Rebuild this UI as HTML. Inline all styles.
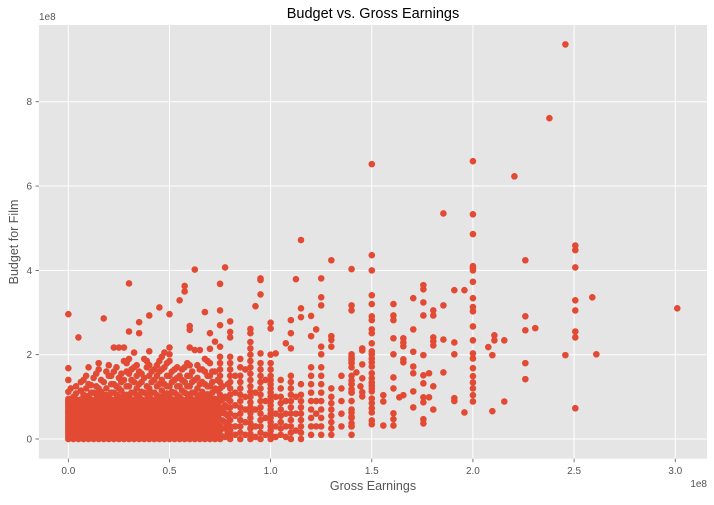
<!DOCTYPE html>
<html><head><meta charset="utf-8"><style>
html,body{margin:0;padding:0;background:#fff;}
svg text{font-family:"Liberation Sans",sans-serif;}
</style></head><body>
<svg id="chart" width="714" height="500" viewBox="0 0 714 500" xmlns="http://www.w3.org/2000/svg">
<rect x="39" y="25" width="668" height="433.7" fill="#E5E5E5"/>
<g id="grid"></g><g id="ticks"></g><g id="points"></g>
<text x="373" y="18" text-anchor="middle" font-size="14.5" fill="#000">Budget vs. Gross Earnings</text>
<text x="373" y="490" text-anchor="middle" font-size="12.5" fill="#555">Gross Earnings</text>
<text transform="translate(18,242) rotate(-90)" text-anchor="middle" font-size="12.5" fill="#555">Budget for Film</text>
<text x="39" y="20" font-size="10" fill="#555">1e8</text>
<text x="707" y="487" text-anchor="end" font-size="10" fill="#555">1e8</text>
</svg>
<script>
const xTicks = [0,50,100,150,200,250,300];
const xTickLabels = ["0.0","0.5","1.0","1.5","2.0","2.5","3.0"];
const yTicks = [0,200,400,600,800];
const yTickLabels = ["0","2","4","6","8"];
const colX = [0,2.5,5,7.5,10,12.5,15,17.5,20,22.5,25,27.5,30,32.5,35,37.5,40,42.5,45,47.5,50,52.5,55,57.5,60,62.5,65,67.5,70,72.5,75,77.5,80,82.5,85,87.5,90,92.5,95,97.5,100,102.5,105,107.5,110,112.5,115,120,122.5,125,130,135,140,142.4,144.4,145.3,150,155.7,160.7,163.6,165.6,170.5,175.5,178.3,180.4,185.4,190.8,195.8,200,207.6,209.6,210.6,215.5,220.5,225.9,230.8,237.8,245.7,250.6,259,261,301,
1.2,3.8,6.2,8.8,11.2,13.8,16.2,18.8,21.2,23.8,26.2,28.8,31.2,33.8,36.2,38.8,41.2,43.8,46.2,48.8,51.2,53.8,56.2,58.8,61.2,63.8,66.2,68.8,71.2,73.8,76.2,78.8];
const colY = [
[0,5,10,15,20,25,30,35,40,45,50,55,60,65,70,75,80,85,90,95,112,140,168,296],
[0,12,25,37,50,62,75,87,100],
[0,12,25,37,50,62,75,87,241],
[0,12,25,37,50,62,75,87,105,140],
[0,12,25,37,50,62,75,87,100,130,170],
[0,12,25,37,50,62,75,87,110,145],
[0,12,25,37,50,62,75,87,100,120,165,180],
[0,12,25,37,50,62,75,87,105,135,286],
[0,12,25,37,50,62,75,87,100,150,175],
[0,12,25,37,50,62,75,87,110,130,160,217],
[0,12,25,37,50,62,75,87,100,120,145,217],
[0,12,25,37,50,62,75,87,105,140,185,217],
[0,12,25,37,50,62,75,87,100,125,155,190,255,369],
[0,12,25,37,50,62,75,87,110,135,170,205],
[0,12,25,37,50,62,75,87,100,130,160,251,277],
[0,12,25,37,50,62,75,87,110,145,190],
[0,12,25,37,50,62,75,87,100,120,150,175,208,293],
[0,12,25,37,50,62,75,87,110,140,165],
[0,12,25,37,50,62,75,87,100,130,160,185,312],
[0,12,25,37,50,62,75,87,105,130,170,205],
[0,12,25,37,50,62,75,87,100,125,150,185,201,217,296],
[0,12,25,37,50,62,75,87,110,140,165],
[0,12,25,37,50,62,75,87,100,125,150,329],
[0,12,25,37,50,62,75,87,110,135,170,350,363],
[0,12,25,37,50,62,75,87,100,125,150,175,217,259,268],
[0,12,25,37,50,62,75,87,110,140,211,402],
[0,12,25,37,50,62,75,87,100,130,165,211],
[0,12,25,37,50,62,75,87,105,130,160,190,301],
[0,12,25,37,50,62,75,87,100,125,150,180,214,251],
[0,8,20,35,50,65,80,95,120,160,231],
[0,8,20,30,45,60,75,90,105,120,135,150,165,180,195,219,270,305,368],
[5,25,40,60,80,100,407],
[0,10,20,30,45,60,75,90,105,120,135,150,165,180,195,241,254,279],
[10,30,55,80,110,150],
[0,15,30,45,60,75,90,105,120,135,150,170,190],
[10,40,70,100,165],
[0,12,25,37,50,62,75,87,100,112,125,140,155,170,185,200,215,230,251,261],
[5,30,70,110,315],
[0,15,30,45,60,75,90,105,120,135,150,165,180,203,343,377,381],
[10,50,90,140],
[0,10,20,30,40,50,60,70,80,90,100,110,120,130,140,150,165,180,200,262,276],
[5,30,60,100,203],
[10,25,40,55,70,85,100,120,140],
[5,30,60,90,227],
[0,15,30,45,60,75,90,105,120,135,150,215,251,282],
[20,60,100,379],
[0,15,30,45,60,75,90,105,130,289,310,472],
[10,30,50,70,90,110,130,150,170,244,292],
[30,60,90,260],
[10,30,50,70,90,110,130,150,170,201,219,317,336,381],
[10,25,40,55,70,85,100,120,219,235,244,424],
[30,60,90,120,150],
[10,30,50,70,90,110,130,150,170,190,305,317,403,201,194,187,180,139,130,118,111,63,53,37,30],
[158],
[125],
[215,210,177,144,111,101],
[341,320,291,282,260,251,227,208,201,191,182,172,156,144,134,127,120,113,96,85,73,63,44,35,400,436,652],
[104,89,32],
[320,293,282,239,201,146,120,61,47,32],
[99],
[239,229,220,189,182,104],
[334,260,207,172,156,113,75],
[365,355,324,293,199,151,132,99,87,47,37],
[156,99],
[305,293,241,232,222,125,70],
[317,236,158,535],
[353,229,201,97,90],
[353,63],
[334,313,303,267,234,203,191,168,149,134,120,104,89,410,405,400,373,486,533,659],
[218],
[199,66],
[246,234],
[234,89],
[623],
[291,258,180,142,424],
[263],
[761],
[936,199],
[459,448,407,329,305,255,241,73],
[336],
[201],
[310],
[6,18,31,44,56,69,81,94,120],
[6,18,31,44,56,69,81,94,108,125],
[6,18,31,44,56,69,81,94,115,135],
[6,18,31,44,56,69,81,94,102,120,150],
[6,18,31,44,56,69,81,94,110,128],
[6,18,31,44,56,69,81,94,106,125,155],
[6,18,31,44,56,69,81,94,112,140],
[6,18,31,44,56,69,81,94,104,120,160],
[6,18,31,44,56,69,81,94,110,130,150],
[6,18,31,44,56,69,81,94,105,125,170],
[6,18,31,44,56,69,81,94,115,135,155],
[6,18,31,44,56,69,81,94,105,125,160,180],
[6,18,31,44,56,69,81,94,110,140,165],
[6,18,31,44,56,69,81,94,104,120,150,175],
[6,18,31,44,56,69,81,94,112,135,155],
[6,18,31,44,56,69,81,94,106,125,170,185],
[6,18,31,44,56,69,81,94,110,135,160],
[6,18,31,44,56,69,81,94,104,125,150,175],
[6,18,31,44,56,69,81,94,115,140,165,195],
[6,18,31,44,56,69,81,94,108,125,150,180],
[6,18,31,44,56,69,81,94,112,135,160],
[6,18,31,44,56,69,81,94,104,125,145,170],
[6,18,31,44,56,69,81,94,115,140,165],
[6,18,31,44,56,69,81,94,106,125,150,180],
[6,18,31,44,56,69,81,94,110,135,160],
[6,18,31,44,56,69,81,94,104,120,145,175],
[6,18,31,44,56,69,81,94,112,135,165],
[6,18,31,44,56,69,81,94,106,125,150,185],
[6,18,31,44,56,69,81,94,110,135,160],
[6,18,31,44,56,69,81,94,115,140],
[6,25,44,69,94,125],
[15,35,55,75,95,130]
];
const X0=-14.5,X1=315.7,Y0=-46.7,Y1=982;
function sx(v){return 39+(v-X0)/(X1-X0)*668;}
function sy(v){return 458.7-(v-Y0)/(Y1-Y0)*433.7;}
const NS="http://www.w3.org/2000/svg";
const grid=document.getElementById('grid'),ticks=document.getElementById('ticks'),pts=document.getElementById('points');
function mk(tag,attrs,parent){const e=document.createElementNS(NS,tag);for(const k in attrs)e.setAttribute(k,attrs[k]);parent.appendChild(e);return e;}
xTicks.forEach((t,i)=>{
  const x=sx(t);
  const g=mk('line',{x1:x,x2:x,y1:25,y2:458.7,stroke:'#fff','stroke-width':1},grid);
  
  
  const tk=mk('line',{x1:x,x2:x,y1:458.7,y2:462.2,stroke:'#555','stroke-width':0.8},ticks);
  
  
  const tx=mk('text',{x:x,y:474,'text-anchor':'middle','font-size':10,fill:'#555'},ticks);
  tx.textContent=xTickLabels[i];
  
  
});
yTicks.forEach((t,i)=>{
  const y=sy(t);
  const g=mk('line',{x1:39,x2:707,y1:y,y2:y,stroke:'#fff','stroke-width':1},grid);
  
  
  const tk=mk('line',{x1:35.5,x2:39,y1:y,y2:y,stroke:'#555','stroke-width':0.8},ticks);
  
  
  const tx=mk('text',{x:32,y:y+3.5,'text-anchor':'end','font-size':10,fill:'#555'},ticks);
  tx.textContent=yTickLabels[i];
  
  
});
colX.forEach((xv,i)=>{
  colY[i].forEach(yv=>{
    const c=mk('circle',{cx:sx(xv),cy:sy(yv),r:3.3,fill:'#E24A33'},pts);
    
    
  });
});
</script>
</body></html>
